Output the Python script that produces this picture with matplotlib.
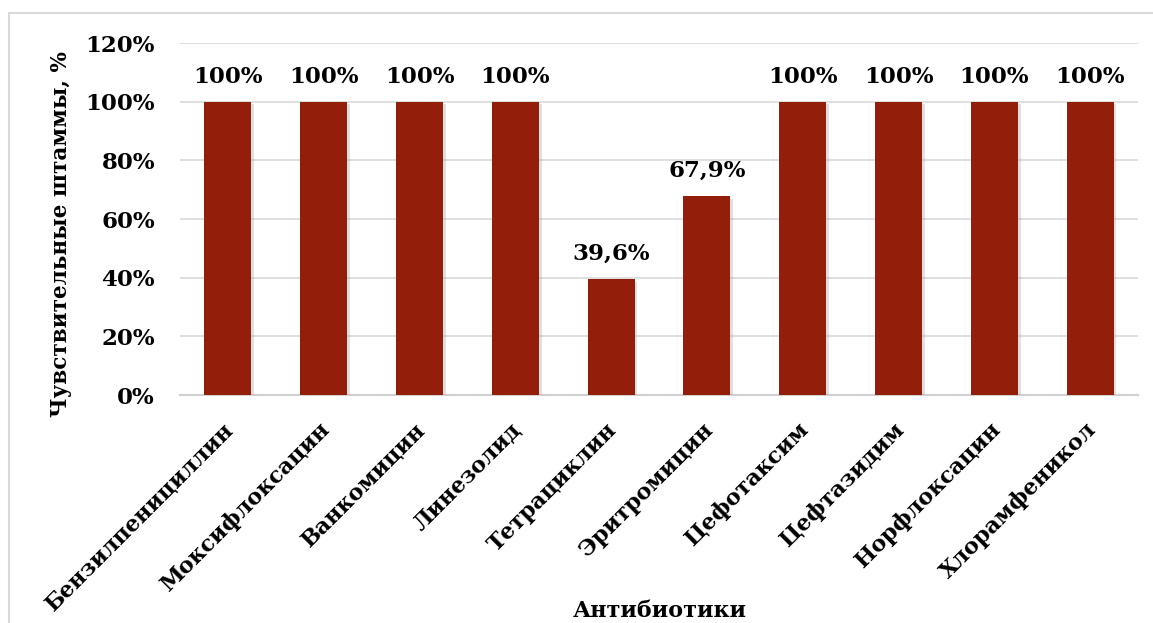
import matplotlib
matplotlib.use("Agg")
import matplotlib.pyplot as plt
import matplotlib.patheffects as pe
import matplotlib.transforms as mtransforms
from matplotlib.patches import Rectangle

categories = ["Бензилпенициллин", "Моксифлоксацин", "Ванкомицин", "Линезолид",
              "Тетрациклин", "Эритромицин", "Цефотаксим", "Цефтазидим",
              "Норфлоксацин", "Хлорамфеникол"]
values = [100, 100, 100, 100, 39.6, 67.9, 100, 100, 100, 100]
labels = ["100%", "100%", "100%", "100%", "39,6%", "67,9%", "100%", "100%", "100%", "100%"]
yticks = [0, 20, 40, 60, 80, 100, 120]
ytick_labels = ["0%", "20%", "40%", "60%", "80%", "100%", "120%"]

plt.rcParams['font.family'] = ['DejaVu Serif']
plt.rcParams['font.weight'] = 'bold'

fig = plt.figure(figsize=(11.53, 6.23), dpi=100)
ax = fig.add_axes([180/1153, 1-395/623, (1138-180)/1153, (395-43)/623])

x = list(range(len(categories)))
bars = ax.bar(x, values, width=0.49, color="#931f0a", zorder=3)
for b in bars:
    b.set_path_effects([pe.SimplePatchShadow(offset=(2, -2), shadow_rgbFace='#999999', alpha=0.3), pe.Normal()])

for xi, v, lab in zip(x, values, labels):
    ax.text(xi, v + 4.8, lab, ha='center', va='bottom', fontsize=16.5, fontweight='bold', color='black')

ax.set_xlim(-0.5, len(categories) - 0.5)
ax.set_ylim(0, 120)
ax.set_yticks(yticks)
ax.set_yticklabels(ytick_labels, fontsize=16.5, fontweight='bold')
ax.set_xticks(x)
ax.set_xticklabels([])
ax.tick_params(axis='both', length=0)
ax.tick_params(axis='y', pad=18)

lbl_trans = ax.get_xaxis_transform() + mtransforms.ScaledTranslation(-0.05, -0.238, fig.dpi_scale_trans)
for xi, cat in zip(x, categories):
    ax.text(xi, 0, cat, transform=lbl_trans, rotation=45, ha='right', va='top',
            rotation_mode='anchor', fontsize=16, fontweight='bold', clip_on=False)

ax.yaxis.grid(True, color='#d9d9d9', linewidth=1.2, zorder=0)
ax.set_axisbelow(True)
for s in ['top', 'right', 'left']:
    ax.spines[s].set_visible(False)
ax.spines['bottom'].set_color('#d0d0d0')
ax.spines['bottom'].set_linewidth(1.5)

fig.text(61/1153, 1-234/623, "Чувствительные штаммы, %", rotation=90, ha='center', va='center',
         fontsize=15.5, fontweight='bold')
fig.text(660/1153, 1-611/623, "Антибиотики", ha='center', va='center', fontsize=16, fontweight='bold')

fig.patches.append(Rectangle((9/1153, -0.05), 1.2, 1-13/623+0.05, transform=fig.transFigure,
                             fill=False, edgecolor='#d9d9d9', linewidth=1.5, zorder=0))

fig.savefig("out.png", dpi=100)
